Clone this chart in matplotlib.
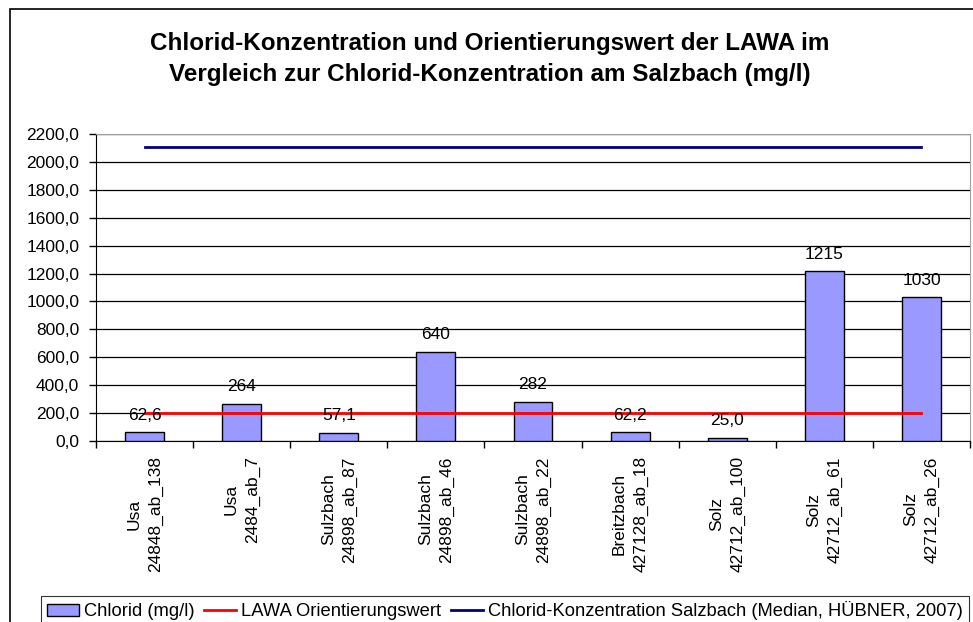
import matplotlib.pyplot as plt
from matplotlib.patches import Rectangle
from matplotlib.ticker import FuncFormatter
import numpy as np

plt.rcParams['font.family'] = ['Liberation Sans', 'DejaVu Sans']

rivers = ["Usa", "Usa", "Sulzbach", "Sulzbach", "Sulzbach", "Breitzbach", "Solz", "Solz", "Solz"]
stations = ["24848_ab_138", "2484_ab_7", "24898_ab_87", "24898_ab_46", "24898_ab_22",
            "427128_ab_18", "42712_ab_100", "42712_ab_61", "42712_ab_26"]
chlorid = [62.6, 264, 57.1, 640, 282, 62.2, 25.0, 1215, 1030]
lawa = [200] * 9
salzbach = [2110] * 9


def fmt_label(v):
    if v < 100:
        return f"{v:.1f}".replace(".", ",")
    return f"{v:.0f}"


fig = plt.figure(figsize=(9.73, 6.22), dpi=100)
ax = fig.add_axes([96 / 973, 1 - 441 / 622, 874 / 973, 307 / 622])

# outer chart frame (cut off at right/bottom like the original)
fig.patches.append(Rectangle((10 / 973, -0.1), 1.2, 1 - 9 / 622 + 0.1, transform=fig.transFigure,
                             fill=False, edgecolor="black", linewidth=1.2))

x = np.arange(len(chlorid))
bars = ax.bar(x, chlorid, width=0.4, color="#9999FF", edgecolor="black", linewidth=1,
              label="Chlorid (mg/l)", zorder=3)
l1, = ax.plot(x, lawa, color="#FF0000", linewidth=2, label="LAWA Orientierungswert", zorder=4)
l2, = ax.plot(x, salzbach, color="#000080", linewidth=2,
              label="Chlorid-Konzentration Salzbach (Median, HÜBNER, 2007)", zorder=4)

for xi, v in zip(x, chlorid):
    ax.annotate(fmt_label(v), (xi, v), xytext=(0, 7), textcoords="offset points",
                ha="center", va="bottom", fontsize=12.5, zorder=5)

ax.set_xlim(-0.5, len(chlorid) - 0.5)
ax.set_ylim(0, 2200)
ax.set_yticks(np.arange(0, 2201, 200))
ax.yaxis.set_major_formatter(FuncFormatter(lambda v, p: f"{v:.1f}".replace(".", ",")))
ax.grid(axis="y", color="black", linewidth=0.9, zorder=0)
ax.set_axisbelow(True)

# ticks at category boundaries, labels at centres
ax.set_xticks(np.arange(-0.5, len(chlorid), 1.0))
ax.set_xticklabels([])
ax.set_xticks(x, minor=True)
ax.set_xticklabels([f"{r}\n{s}" for r, s in zip(rivers, stations)], minor=True,
                   rotation=90, ha="center", va="top", multialignment="center",
                   fontsize=12.5, linespacing=1.5)
ax.tick_params(axis="x", which="major", direction="out", length=5, width=1)
ax.tick_params(axis="x", which="minor", length=0, pad=11)
ax.tick_params(axis="y", direction="out", length=5, width=1, labelsize=12.5, pad=7)

for side in ("top", "right"):
    ax.spines[side].set_color("#A0A0A0")
for side in ("left", "bottom"):
    ax.spines[side].set_color("black")

fig.text(490 / 973, 1 - 59 / 622, "Chlorid-Konzentration und Orientierungswert der LAWA im\n"
         "Vergleich zur Chlorid-Konzentration am Salzbach (mg/l)",
         ha="center", va="center", fontsize=17.5, fontweight="bold", linespacing=1.4)

leg = fig.legend([bars, l1, l2], [bars.get_label(), l1.get_label(), l2.get_label()],
                 loc="upper left", bbox_to_anchor=(41 / 973, 1 - 596 / 622), ncol=3,
                 frameon=True, fancybox=False, edgecolor="black", fontsize=13.2,
                 handlelength=1.75, handleheight=0.6, columnspacing=0.5, handletextpad=0.3,
                 borderpad=0.3, borderaxespad=0)
leg.get_frame().set_linewidth(0.8)

fig.savefig("out.png", dpi=100)
